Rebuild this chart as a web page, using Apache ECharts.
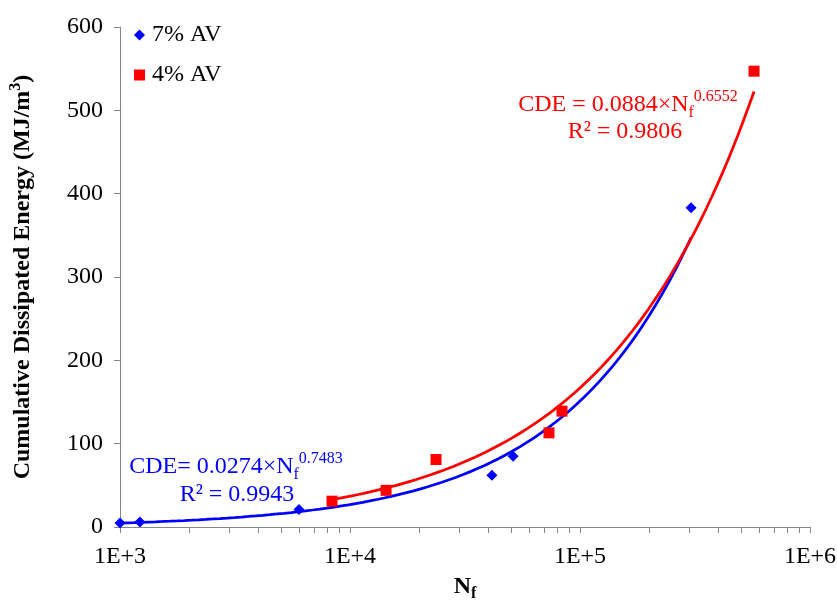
<!DOCTYPE html>
<html>
<head>
<meta charset="utf-8">
<script src="https://cdn.jsdelivr.net/npm/echarts@6/dist/echarts.min.js"></script>
<style>
  html, body { margin: 0; padding: 0; background: #fff; }
  #main { width: 837px; height: 602px; }
</style>
</head>
<body>
<div id="main"></div>
<script>
/*********************  data  *********************/
var av7Nf  = [1000, 1220, 6000, 41400, 51200, 304000];
var av7CDE = [4.8, 6, 21, 62, 85, 383];

var av4Nf  = [8350, 14350, 23660, 73300, 83500, 571000];
var av4CDE = [31, 44, 81, 113, 139, 547];

// power-law trendlines as printed on the chart
var av7Fit = { a: 0.0274, b: 0.7483, r2: '0.9943' };
var av4Fit = { a: 0.0884, b: 0.6552, r2: '0.9806' };

var yTicks = [0, 100, 200, 300, 400, 500, 600];
var xDecades = [1e3, 1e4, 1e5, 1e6];

var FONT = '"Liberation Serif", "Times New Roman", serif';

/*********************  helpers  *********************/
function pairs(xs, ys) {
    return xs.map(function (x, i) { return [x, ys[i]]; });
}
// sample the fitted curve between first and last measured point
function trend(fit, xs) {
    var lo = Math.log10(xs[0]), hi = Math.log10(xs[xs.length - 1]);
    var out = [];
    for (var i = 0; i <= 80; i++) {
        var x = Math.pow(10, lo + (hi - lo) * i / 80);
        out.push([x, fit.a * Math.pow(x, fit.b)]);
    }
    return out;
}
// log axis ticks: 1..9 times each decade
var xTickVals = [];
for (var d = 0; d < xDecades.length - 1; d++) {
    for (var k = 1; k <= 9; k++) xTickVals.push(xDecades[d] * k);
}
xTickVals.push(xDecades[xDecades.length - 1]);

function eqText(fit, sep) {
    return '{m|CDE' + sep + ' ' + fit.a.toFixed(4) + '\u00d7N}{sub|f}{sup|' + fit.b.toFixed(4) + '}';
}
function eqRich(color) {
    return {
        m:   { fontSize: 24, fontFamily: FONT, fill: color, lineHeight: 32 },
        sub: { fontSize: 16, fontFamily: FONT, fill: color, lineHeight: 20, verticalAlign: 'bottom' },
        sup: { fontSize: 16, fontFamily: FONT, fill: color, lineHeight: 20, verticalAlign: 'top' }
    };
}

/*********************  chart  *********************/
var chart = echarts.init(document.getElementById('main'), null, { renderer: 'canvas' });

var option = {
    animation: false,
    backgroundColor: '#fff',
    grid: { left: 120, right: 27, top: 27, bottom: 75, outerBoundsMode: 'none', containLabel: false },
    legend: {
        data: ['7% AV', '4% AV'],
        orient: 'vertical',
        left: 129,
        top: 18,
        itemWidth: 11,
        itemHeight: 11,
        itemGap: 16,
        textStyle: { fontFamily: FONT, fontSize: 24, color: '#000', padding: [0, 0, 0, 2] }
    },
    xAxis: {
        type: 'log',
        logBase: 10,
        min: 1e3,
        max: 1e6,
        name: '{n|N}{s|f}',
        nameLocation: 'middle',
        nameGap: 45,
        nameTextStyle: {
            rich: {
                n: { fontFamily: FONT, fontSize: 24, fontWeight: 'bold', color: '#000', lineHeight: 30 },
                s: { fontFamily: FONT, fontSize: 16, fontWeight: 'bold', color: '#000', lineHeight: 18, verticalAlign: 'bottom' }
            }
        },
        axisLine: { lineStyle: { color: '#868686', width: 1 } },
        axisTick: { show: true, inside: false, length: 6, customValues: xTickVals, lineStyle: { color: '#868686' } },
        axisLabel: {
            customValues: xDecades,
            margin: 18,
            fontFamily: FONT, fontSize: 24, color: '#000',
            formatter: function (v) { return '1E+' + Math.round(Math.log10(v)); }
        },
        splitLine: { show: false },
        minorTick: { show: false }
    },
    yAxis: {
        type: 'value',
        min: 0,
        max: 600,
        interval: 100,
        name: '{t|Cumulative Dissipated Energy (MJ/m}{s|3}{t|)}',
        nameLocation: 'middle',
        nameGap: 82,
        nameTextStyle: {
            rich: {
                t: { fontFamily: FONT, fontSize: 24, fontWeight: 'bold', color: '#000', lineHeight: 30 },
                s: { fontFamily: FONT, fontSize: 16, fontWeight: 'bold', color: '#000', lineHeight: 18, verticalAlign: 'top' }
            }
        },
        axisLine: { show: true, lineStyle: { color: '#868686', width: 1 } },
        axisTick: { show: true, inside: false, length: 6, lineStyle: { color: '#868686' } },
        axisLabel: { margin: 17, fontFamily: FONT, fontSize: 24, color: '#000' },
        splitLine: { show: false }
    },
    series: [
        {
            name: '7% trend', type: 'line', data: trend(av7Fit, av7Nf),
            showSymbol: false, symbol: 'none', silent: true,
            lineStyle: { color: '#0000ff', width: 2.75 }, z: 2
        },
        {
            name: '4% trend', type: 'line', data: trend(av4Fit, av4Nf),
            showSymbol: false, symbol: 'none', silent: true,
            lineStyle: { color: '#ff0000', width: 2.75 }, z: 2
        },
        {
            name: '7% AV', type: 'scatter', data: pairs(av7Nf, av7CDE),
            symbol: 'diamond', symbolSize: 11,
            itemStyle: { color: '#0000ff', opacity: 1 }, z: 3
        },
        {
            name: '4% AV', type: 'scatter', data: pairs(av4Nf, av4CDE),
            symbol: 'rect', symbolSize: 11,
            itemStyle: { color: '#ff0000', opacity: 1 }, z: 3
        }
    ],
    graphic: [
        // blue equation
        { type: 'text', x: 236, y: 467, z: 10,
          style: { text: eqText(av7Fit, '='), rich: eqRich('#0000ff'), align: 'center', verticalAlign: 'middle' } },
        { type: 'text', x: 237, y: 495, z: 10,
          style: { text: 'R\u00b2 = ' + av7Fit.r2, fontFamily: FONT, fontSize: 24, fill: '#0000ff', align: 'center', verticalAlign: 'middle' } },
        // red equation
        { type: 'text', x: 628, y: 105, z: 10,
          style: { text: eqText(av4Fit, ' ='), rich: eqRich('#ff0000'), align: 'center', verticalAlign: 'middle' } },
        { type: 'text', x: 625, y: 132, z: 10,
          style: { text: 'R\u00b2 = ' + av4Fit.r2, fontFamily: FONT, fontSize: 24, fill: '#ff0000', align: 'center', verticalAlign: 'middle' } }
    ]
};

chart.setOption(option);
</script>
</body>
</html>
